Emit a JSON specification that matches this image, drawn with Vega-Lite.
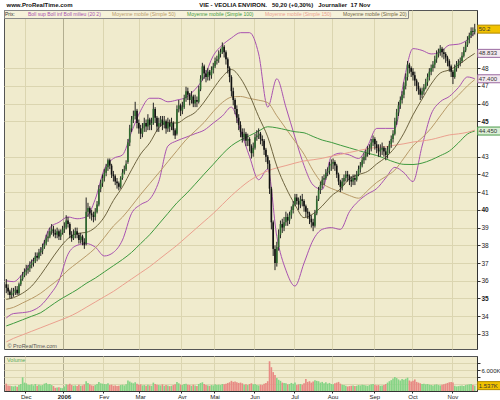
{
"$schema":"https://vega.github.io/schema/vega-lite/v6.json",
"background":"white",
"padding":{"left":3,"top":1,"right":0,"bottom":0},
"config":{"view":{"fill":"#f0ebcd","stroke":"#555","strokeWidth":1},"font":"Liberation Sans","axis":{"labelFont":"Liberation Sans","labelColor":"#222","gridColor":"#dbd5b0","gridWidth":1,"domainColor":"#333","tickColor":"#333","labelOverlap":false},"axisY":{"labelOverlap":false}},
"title":{"text":"www.ProRealTime.com\u00a0\u00a0\u00a0\u00a0\u00a0\u00a0\u00a0\u00a0\u00a0\u00a0\u00a0\u00a0\u00a0\u00a0\u00a0\u00a0\u00a0\u00a0\u00a0\u00a0\u00a0\u00a0\u00a0\u00a0\u00a0\u00a0\u00a0\u00a0\u00a0\u00a0\u00a0\u00a0\u00a0\u00a0\u00a0\u00a0\u00a0\u00a0\u00a0\u00a0\u00a0\u00a0\u00a0\u00a0\u00a0\u00a0\u00a0\u00a0\u00a0\u00a0\u00a0\u00a0\u00a0\u00a0\u00a0\u00a0\u00a0\u00a0\u00a0\u00a0\u00a0\u00a0\u00a0\u00a0\u00a0\u00a0\u00a0\u00a0\u00a0\u00a0\u00a0\u00a0\u00a0\u00a0\u00a0\u00a0VIE - VEOLIA ENVIRON.\u00a0\u00a0\u00a050,20 (+0,30%)\u00a0\u00a0\u00a0Journalier\u00a0\u00a017 Nov","anchor":"start","fontSize":6,"fontWeight":"bold","color":"#111","offset":2,"dx":3},
"datasets":{
"candles":[
{"d":"2005-11-16","o":35.8,"h":36.1,"l":35.3,"c":35.6,"v":2100},
{"d":"2005-11-17","o":35.6,"h":35.8,"l":35.2,"c":35.4,"v":1600},
{"d":"2005-11-18","o":35.4,"h":35.5,"l":35.0,"c":35.2,"v":1500},
{"d":"2005-11-21","o":35.2,"h":35.6,"l":35.0,"c":35.3,"v":1400},
{"d":"2005-11-22","o":35.3,"h":35.6,"l":35.1,"c":35.4,"v":1300},
{"d":"2005-11-23","o":35.4,"h":35.7,"l":35.2,"c":35.5,"v":1500},
{"d":"2005-11-24","o":35.5,"h":35.7,"l":35.2,"c":35.3,"v":1200},
{"d":"2005-11-25","o":35.3,"h":35.9,"l":35.2,"c":35.8,"v":1700},
{"d":"2005-11-28","o":35.8,"h":36.3,"l":35.7,"c":36.1,"v":2000},
{"d":"2005-11-29","o":36.1,"h":36.5,"l":36.0,"c":36.3,"v":3900},
{"d":"2005-11-30","o":36.3,"h":36.7,"l":36.2,"c":36.5,"v":2400},
{"d":"2005-12-01","o":36.5,"h":36.9,"l":36.3,"c":36.6,"v":2200},
{"d":"2005-12-02","o":36.6,"h":36.9,"l":36.4,"c":36.7,"v":1800},
{"d":"2005-12-05","o":36.7,"h":37.1,"l":36.5,"c":36.9,"v":1700},
{"d":"2005-12-06","o":36.9,"h":37.2,"l":36.7,"c":37.0,"v":1900},
{"d":"2005-12-07","o":37.0,"h":37.3,"l":36.8,"c":37.1,"v":1600},
{"d":"2005-12-08","o":37.1,"h":37.6,"l":37.0,"c":37.4,"v":2000},
{"d":"2005-12-09","o":37.4,"h":37.6,"l":37.1,"c":37.3,"v":1500},
{"d":"2005-12-12","o":37.3,"h":37.8,"l":37.2,"c":37.6,"v":1800},
{"d":"2005-12-13","o":37.6,"h":37.9,"l":37.4,"c":37.7,"v":1600},
{"d":"2005-12-14","o":37.7,"h":38.1,"l":37.5,"c":37.9,"v":1700},
{"d":"2005-12-15","o":37.9,"h":38.3,"l":37.8,"c":38.1,"v":2100},
{"d":"2005-12-16","o":38.1,"h":38.6,"l":38.0,"c":38.4,"v":2300},
{"d":"2005-12-19","o":38.4,"h":38.8,"l":38.2,"c":38.5,"v":1900},
{"d":"2005-12-20","o":38.5,"h":39.0,"l":38.4,"c":38.8,"v":2000},
{"d":"2005-12-21","o":38.8,"h":39.2,"l":38.6,"c":38.9,"v":1700},
{"d":"2005-12-22","o":38.9,"h":39.1,"l":38.5,"c":38.7,"v":1400},
{"d":"2005-12-23","o":38.7,"h":38.9,"l":38.4,"c":38.6,"v":900},
{"d":"2005-12-27","o":38.6,"h":39.0,"l":38.4,"c":38.8,"v":1000},
{"d":"2005-12-28","o":38.8,"h":38.9,"l":38.3,"c":38.5,"v":1100},
{"d":"2005-12-29","o":38.5,"h":38.9,"l":38.3,"c":38.7,"v":900},
{"d":"2005-12-30","o":38.7,"h":39.1,"l":38.6,"c":38.9,"v":800},
{"d":"2006-01-02","o":38.9,"h":39.3,"l":38.7,"c":39.0,"v":1300},
{"d":"2006-01-03","o":39.0,"h":39.7,"l":38.9,"c":39.4,"v":1900},
{"d":"2006-01-04","o":39.4,"h":39.6,"l":39.0,"c":39.2,"v":1800},
{"d":"2006-01-05","o":39.2,"h":39.3,"l":38.4,"c":38.6,"v":2100},
{"d":"2006-01-06","o":38.6,"h":38.8,"l":38.2,"c":38.4,"v":1700},
{"d":"2006-01-09","o":38.4,"h":38.9,"l":38.3,"c":38.6,"v":1500},
{"d":"2006-01-10","o":38.6,"h":39.0,"l":38.4,"c":38.8,"v":1600},
{"d":"2006-01-11","o":38.8,"h":39.0,"l":38.4,"c":38.6,"v":1400},
{"d":"2006-01-12","o":38.6,"h":38.7,"l":38.1,"c":38.3,"v":1800},
{"d":"2006-01-13","o":38.3,"h":38.7,"l":38.1,"c":38.5,"v":1500},
{"d":"2006-01-16","o":38.5,"h":38.6,"l":38.0,"c":38.2,"v":1600},
{"d":"2006-01-17","o":38.2,"h":38.4,"l":37.8,"c":38.0,"v":1900},
{"d":"2006-01-18","o":38.1,"h":40.7,"l":38.0,"c":39.9,"v":2800},
{"d":"2006-01-19","o":39.9,"h":40.4,"l":39.6,"c":40.1,"v":2300},
{"d":"2006-01-20","o":40.1,"h":40.2,"l":39.5,"c":39.8,"v":1900},
{"d":"2006-01-23","o":39.8,"h":40.0,"l":39.4,"c":39.7,"v":1600},
{"d":"2006-01-24","o":39.7,"h":39.9,"l":39.3,"c":39.6,"v":1500},
{"d":"2006-01-25","o":39.6,"h":40.1,"l":39.4,"c":39.9,"v":1700},
{"d":"2006-01-26","o":39.9,"h":40.5,"l":39.8,"c":40.3,"v":2000},
{"d":"2006-01-27","o":40.3,"h":41.4,"l":40.2,"c":41.2,"v":2600},
{"d":"2006-01-30","o":41.2,"h":41.7,"l":41.0,"c":41.5,"v":2200},
{"d":"2006-01-31","o":41.5,"h":42.0,"l":41.3,"c":41.8,"v":2100},
{"d":"2006-02-01","o":41.8,"h":42.3,"l":41.6,"c":42.1,"v":2000},
{"d":"2006-02-02","o":42.1,"h":42.6,"l":41.9,"c":42.4,"v":1900},
{"d":"2006-02-03","o":42.4,"h":42.9,"l":42.2,"c":42.8,"v":2200},
{"d":"2006-02-06","o":42.8,"h":42.9,"l":42.3,"c":42.5,"v":1700},
{"d":"2006-02-07","o":42.5,"h":42.6,"l":41.8,"c":42.0,"v":1800},
{"d":"2006-02-08","o":42.0,"h":42.2,"l":41.6,"c":41.9,"v":1500},
{"d":"2006-02-09","o":41.9,"h":42.0,"l":41.4,"c":41.6,"v":1600},
{"d":"2006-02-10","o":41.6,"h":41.8,"l":41.2,"c":41.5,"v":1400},
{"d":"2006-02-13","o":41.5,"h":41.6,"l":41.1,"c":41.3,"v":1500},
{"d":"2006-02-14","o":41.3,"h":41.9,"l":41.2,"c":41.8,"v":1700},
{"d":"2006-02-15","o":41.8,"h":42.3,"l":41.7,"c":42.1,"v":1800},
{"d":"2006-02-16","o":42.1,"h":42.5,"l":42.0,"c":42.3,"v":1600},
{"d":"2006-02-17","o":42.3,"h":42.8,"l":42.2,"c":42.6,"v":1900},
{"d":"2006-02-20","o":42.7,"h":44.0,"l":42.6,"c":43.8,"v":3000},
{"d":"2006-02-21","o":43.8,"h":44.8,"l":43.6,"c":44.6,"v":2700},
{"d":"2006-02-22","o":44.6,"h":45.3,"l":44.4,"c":45.1,"v":2400},
{"d":"2006-02-23","o":45.1,"h":45.6,"l":44.9,"c":45.3,"v":2200},
{"d":"2006-02-24","o":45.3,"h":46.1,"l":45.1,"c":45.6,"v":2500},
{"d":"2006-02-27","o":45.6,"h":45.7,"l":44.6,"c":44.9,"v":2100},
{"d":"2006-02-28","o":44.9,"h":45.1,"l":44.3,"c":44.6,"v":1800},
{"d":"2006-03-01","o":44.6,"h":44.8,"l":44.0,"c":44.3,"v":1900},
{"d":"2006-03-02","o":44.3,"h":44.9,"l":44.1,"c":44.6,"v":1600},
{"d":"2006-03-03","o":44.6,"h":45.2,"l":44.4,"c":44.9,"v":1700},
{"d":"2006-03-06","o":44.9,"h":45.1,"l":44.4,"c":44.7,"v":1500},
{"d":"2006-03-07","o":44.7,"h":45.4,"l":44.5,"c":45.1,"v":1800},
{"d":"2006-03-08","o":45.1,"h":45.2,"l":44.5,"c":44.8,"v":1600},
{"d":"2006-03-09","o":44.8,"h":45.2,"l":44.5,"c":44.9,"v":1500},
{"d":"2006-03-10","o":44.9,"h":46.05,"l":44.8,"c":45.7,"v":2400},
{"d":"2006-03-13","o":45.7,"h":45.8,"l":44.9,"c":45.2,"v":2000},
{"d":"2006-03-14","o":45.2,"h":45.3,"l":44.4,"c":44.7,"v":1800},
{"d":"2006-03-15","o":44.7,"h":45.2,"l":44.4,"c":44.9,"v":1700},
{"d":"2006-03-16","o":44.9,"h":45.3,"l":44.7,"c":45.1,"v":1600},
{"d":"2006-03-17","o":45.1,"h":45.3,"l":44.5,"c":44.8,"v":1900},
{"d":"2006-03-20","o":44.8,"h":45.3,"l":44.6,"c":45.0,"v":1500},
{"d":"2006-03-21","o":45.0,"h":45.1,"l":44.3,"c":44.6,"v":1700},
{"d":"2006-03-22","o":44.6,"h":45.2,"l":44.4,"c":44.9,"v":1600},
{"d":"2006-03-23","o":44.9,"h":45.1,"l":44.4,"c":44.7,"v":1400},
{"d":"2006-03-24","o":44.7,"h":45.2,"l":44.5,"c":44.9,"v":1500},
{"d":"2006-03-27","o":44.9,"h":45.0,"l":44.2,"c":44.5,"v":1700},
{"d":"2006-03-28","o":44.5,"h":44.6,"l":44.0,"c":44.2,"v":1900},
{"d":"2006-03-29","o":44.3,"h":45.9,"l":44.2,"c":45.7,"v":2600},
{"d":"2006-03-30","o":45.7,"h":46.2,"l":45.5,"c":45.9,"v":2200},
{"d":"2006-03-31","o":45.9,"h":46.0,"l":45.3,"c":45.6,"v":1800},
{"d":"2006-04-03","o":45.6,"h":46.1,"l":45.4,"c":45.8,"v":1700},
{"d":"2006-04-04","o":45.8,"h":46.5,"l":45.7,"c":46.3,"v":2000},
{"d":"2006-04-05","o":46.3,"h":46.95,"l":46.1,"c":46.7,"v":2100},
{"d":"2006-04-06","o":46.7,"h":46.9,"l":46.2,"c":46.5,"v":1800},
{"d":"2006-04-07","o":46.5,"h":46.6,"l":45.9,"c":46.2,"v":1700},
{"d":"2006-04-10","o":46.2,"h":46.7,"l":46.0,"c":46.4,"v":1500},
{"d":"2006-04-11","o":46.4,"h":46.5,"l":45.8,"c":46.0,"v":1800},
{"d":"2006-04-12","o":46.0,"h":46.5,"l":45.8,"c":46.2,"v":1600},
{"d":"2006-04-13","o":46.2,"h":46.4,"l":45.8,"c":46.1,"v":1400},
{"d":"2006-04-18","o":46.1,"h":47.0,"l":46.0,"c":46.8,"v":2000},
{"d":"2006-04-19","o":46.8,"h":47.6,"l":46.7,"c":47.4,"v":2300},
{"d":"2006-04-20","o":47.4,"h":48.3,"l":47.3,"c":48.1,"v":2500},
{"d":"2006-04-21","o":48.1,"h":48.2,"l":47.4,"c":47.7,"v":2000},
{"d":"2006-04-24","o":47.7,"h":47.9,"l":47.2,"c":47.5,"v":1700},
{"d":"2006-04-25","o":47.5,"h":48.0,"l":47.3,"c":47.8,"v":1600},
{"d":"2006-04-26","o":47.8,"h":47.9,"l":47.3,"c":47.6,"v":1500},
{"d":"2006-04-27","o":47.6,"h":48.1,"l":47.4,"c":47.9,"v":1700},
{"d":"2006-04-28","o":47.9,"h":48.3,"l":47.7,"c":48.1,"v":1600},
{"d":"2006-05-02","o":48.1,"h":48.6,"l":48.0,"c":48.4,"v":1900},
{"d":"2006-05-03","o":48.4,"h":48.7,"l":48.2,"c":48.5,"v":1700},
{"d":"2006-05-04","o":48.5,"h":49.0,"l":48.3,"c":48.8,"v":1800},
{"d":"2006-05-05","o":48.8,"h":49.1,"l":48.6,"c":48.9,"v":1700},
{"d":"2006-05-08","o":48.9,"h":49.45,"l":48.8,"c":49.2,"v":2000},
{"d":"2006-05-09","o":49.2,"h":49.3,"l":48.6,"c":48.9,"v":1900},
{"d":"2006-05-10","o":48.9,"h":49.0,"l":48.2,"c":48.5,"v":2100},
{"d":"2006-05-11","o":48.5,"h":48.6,"l":47.7,"c":48.0,"v":2300},
{"d":"2006-05-12","o":48.0,"h":48.1,"l":47.2,"c":47.5,"v":2500},
{"d":"2006-05-15","o":47.5,"h":47.6,"l":46.4,"c":46.7,"v":2900},
{"d":"2006-05-16","o":46.7,"h":46.9,"l":45.9,"c":46.2,"v":2600},
{"d":"2006-05-17","o":46.2,"h":46.3,"l":45.4,"c":45.7,"v":2700},
{"d":"2006-05-18","o":45.7,"h":45.9,"l":44.9,"c":45.2,"v":2500},
{"d":"2006-05-19","o":45.2,"h":45.4,"l":44.5,"c":44.8,"v":2300},
{"d":"2006-05-22","o":44.8,"h":45.0,"l":44.1,"c":44.4,"v":2400},
{"d":"2006-05-23","o":44.4,"h":44.6,"l":43.8,"c":44.1,"v":2200},
{"d":"2006-05-24","o":44.1,"h":44.6,"l":43.9,"c":44.3,"v":1800},
{"d":"2006-05-25","o":44.3,"h":44.4,"l":43.6,"c":43.9,"v":1900},
{"d":"2006-05-26","o":43.9,"h":44.3,"l":43.6,"c":44.0,"v":1700},
{"d":"2006-05-29","o":44.0,"h":44.1,"l":43.3,"c":43.6,"v":2000},
{"d":"2006-05-30","o":43.6,"h":43.7,"l":42.9,"c":43.2,"v":2200},
{"d":"2006-05-31","o":43.2,"h":43.8,"l":43.0,"c":43.5,"v":1900},
{"d":"2006-06-01","o":43.5,"h":44.3,"l":43.4,"c":44.1,"v":2000},
{"d":"2006-06-02","o":44.1,"h":44.5,"l":43.9,"c":44.2,"v":1700},
{"d":"2006-06-05","o":44.2,"h":44.6,"l":44.0,"c":44.3,"v":1600},
{"d":"2006-06-06","o":44.3,"h":44.4,"l":43.7,"c":44.0,"v":1800},
{"d":"2006-06-07","o":44.0,"h":44.2,"l":43.6,"c":43.9,"v":1700},
{"d":"2006-06-08","o":43.9,"h":44.0,"l":43.1,"c":43.4,"v":2100},
{"d":"2006-06-09","o":43.4,"h":43.5,"l":42.7,"c":43.0,"v":2300},
{"d":"2006-06-12","o":43.0,"h":43.1,"l":42.3,"c":42.6,"v":2800},
{"d":"2006-06-13","o":42.6,"h":42.8,"l":40.9,"c":41.2,"v":8500},
{"d":"2006-06-14","o":41.2,"h":41.3,"l":38.9,"c":39.3,"v":6800},
{"d":"2006-06-15","o":39.3,"h":39.4,"l":37.4,"c":37.8,"v":5400},
{"d":"2006-06-16","o":37.8,"h":38.0,"l":36.6,"c":37.0,"v":4600},
{"d":"2006-06-19","o":37.0,"h":38.2,"l":36.8,"c":37.9,"v":3700},
{"d":"2006-06-20","o":37.9,"h":38.9,"l":37.7,"c":38.6,"v":3200},
{"d":"2006-06-21","o":38.6,"h":39.4,"l":38.4,"c":39.2,"v":2900},
{"d":"2006-06-22","o":39.2,"h":39.5,"l":38.7,"c":39.0,"v":2400},
{"d":"2006-06-23","o":39.0,"h":39.6,"l":38.8,"c":39.3,"v":2300},
{"d":"2006-06-26","o":39.3,"h":39.9,"l":39.1,"c":39.6,"v":2200},
{"d":"2006-06-27","o":39.6,"h":39.8,"l":39.1,"c":39.4,"v":1900},
{"d":"2006-06-28","o":39.4,"h":39.9,"l":39.2,"c":39.7,"v":2000},
{"d":"2006-06-29","o":39.7,"h":40.2,"l":39.5,"c":40.0,"v":2300},
{"d":"2006-06-30","o":40.0,"h":40.5,"l":39.8,"c":40.3,"v":2100},
{"d":"2006-07-03","o":40.3,"h":40.9,"l":40.2,"c":40.7,"v":2400},
{"d":"2006-07-04","o":40.7,"h":40.9,"l":40.3,"c":40.5,"v":1700},
{"d":"2006-07-05","o":40.5,"h":40.7,"l":40.0,"c":40.3,"v":1900},
{"d":"2006-07-06","o":40.3,"h":40.8,"l":40.1,"c":40.6,"v":2000},
{"d":"2006-07-07","o":40.6,"h":40.9,"l":40.2,"c":40.5,"v":1800},
{"d":"2006-07-10","o":40.5,"h":40.6,"l":39.9,"c":40.2,"v":2200},
{"d":"2006-07-11","o":40.2,"h":40.3,"l":39.6,"c":39.9,"v":3400},
{"d":"2006-07-12","o":39.9,"h":40.1,"l":39.5,"c":39.8,"v":2600},
{"d":"2006-07-13","o":39.8,"h":39.9,"l":39.2,"c":39.5,"v":2800},
{"d":"2006-07-14","o":39.5,"h":39.7,"l":39.0,"c":39.3,"v":2400},
{"d":"2006-07-17","o":39.3,"h":39.5,"l":38.8,"c":39.1,"v":2700},
{"d":"2006-07-18","o":39.1,"h":40.0,"l":39.0,"c":39.8,"v":3100},
{"d":"2006-07-19","o":39.8,"h":40.8,"l":39.7,"c":40.6,"v":2900},
{"d":"2006-07-20","o":40.6,"h":41.3,"l":40.5,"c":41.1,"v":2800},
{"d":"2006-07-21","o":41.1,"h":41.6,"l":40.9,"c":41.4,"v":2400},
{"d":"2006-07-24","o":41.4,"h":41.9,"l":41.2,"c":41.7,"v":2600},
{"d":"2006-07-25","o":41.7,"h":42.0,"l":41.4,"c":41.8,"v":2200},
{"d":"2006-07-26","o":41.8,"h":42.3,"l":41.7,"c":42.1,"v":2500},
{"d":"2006-07-27","o":42.1,"h":42.4,"l":41.9,"c":42.2,"v":2100},
{"d":"2006-07-28","o":42.2,"h":42.7,"l":42.0,"c":42.5,"v":2300},
{"d":"2006-07-31","o":42.5,"h":42.85,"l":42.2,"c":42.6,"v":2000},
{"d":"2006-08-01","o":42.6,"h":42.9,"l":42.3,"c":42.7,"v":1900},
{"d":"2006-08-02","o":42.7,"h":42.8,"l":42.2,"c":42.5,"v":2200},
{"d":"2006-08-03","o":42.5,"h":42.6,"l":41.8,"c":42.0,"v":2400},
{"d":"2006-08-04","o":42.0,"h":42.1,"l":41.4,"c":41.6,"v":2600},
{"d":"2006-08-07","o":41.6,"h":41.7,"l":41.0,"c":41.3,"v":2100},
{"d":"2006-08-08","o":41.3,"h":41.8,"l":41.1,"c":41.6,"v":1800},
{"d":"2006-08-09","o":41.6,"h":42.0,"l":41.4,"c":41.8,"v":1700},
{"d":"2006-08-10","o":41.8,"h":42.2,"l":41.6,"c":42.0,"v":1500},
{"d":"2006-08-11","o":42.0,"h":42.2,"l":41.6,"c":41.9,"v":1300},
{"d":"2006-08-14","o":41.9,"h":42.0,"l":41.4,"c":41.7,"v":1400},
{"d":"2006-08-15","o":41.7,"h":41.9,"l":41.3,"c":41.6,"v":1500},
{"d":"2006-08-16","o":41.6,"h":42.0,"l":41.4,"c":41.8,"v":1600},
{"d":"2006-08-17","o":41.8,"h":42.0,"l":41.4,"c":41.7,"v":1400},
{"d":"2006-08-18","o":41.7,"h":42.2,"l":41.6,"c":42.0,"v":1500},
{"d":"2006-08-21","o":42.0,"h":42.5,"l":41.9,"c":42.3,"v":1700},
{"d":"2006-08-22","o":42.3,"h":42.7,"l":42.1,"c":42.5,"v":1600},
{"d":"2006-08-23","o":42.5,"h":43.0,"l":42.4,"c":42.8,"v":1800},
{"d":"2006-08-24","o":42.8,"h":43.2,"l":42.6,"c":43.0,"v":1700},
{"d":"2006-08-25","o":43.0,"h":43.4,"l":42.8,"c":43.2,"v":1600},
{"d":"2006-08-28","o":43.2,"h":43.6,"l":43.0,"c":43.4,"v":1500},
{"d":"2006-08-29","o":43.4,"h":43.7,"l":43.1,"c":43.5,"v":1700},
{"d":"2006-08-30","o":43.5,"h":44.0,"l":43.3,"c":43.8,"v":1900},
{"d":"2006-08-31","o":43.8,"h":44.2,"l":43.6,"c":44.0,"v":2000},
{"d":"2006-09-01","o":44.0,"h":44.1,"l":43.4,"c":43.7,"v":1800},
{"d":"2006-09-04","o":43.7,"h":43.9,"l":43.2,"c":43.5,"v":1600},
{"d":"2006-09-05","o":43.5,"h":43.7,"l":43.0,"c":43.3,"v":1700},
{"d":"2006-09-06","o":43.3,"h":43.7,"l":43.0,"c":43.4,"v":1500},
{"d":"2006-09-07","o":43.4,"h":43.8,"l":43.1,"c":43.5,"v":1600},
{"d":"2006-09-08","o":43.5,"h":43.6,"l":43.0,"c":43.3,"v":1700},
{"d":"2006-09-11","o":43.3,"h":43.5,"l":42.8,"c":43.1,"v":2000},
{"d":"2006-09-12","o":43.1,"h":43.6,"l":42.9,"c":43.4,"v":2400},
{"d":"2006-09-13","o":43.4,"h":43.9,"l":43.2,"c":43.7,"v":2800},
{"d":"2006-09-14","o":43.7,"h":44.2,"l":43.5,"c":44.0,"v":3100},
{"d":"2006-09-15","o":44.0,"h":44.5,"l":43.8,"c":44.3,"v":3600},
{"d":"2006-09-18","o":44.3,"h":45.2,"l":44.2,"c":45.0,"v":4000},
{"d":"2006-09-19","o":45.0,"h":45.7,"l":44.8,"c":45.5,"v":3700},
{"d":"2006-09-20","o":45.5,"h":46.1,"l":45.3,"c":45.9,"v":3300},
{"d":"2006-09-21","o":45.9,"h":46.4,"l":45.7,"c":46.2,"v":3000},
{"d":"2006-09-22","o":46.2,"h":46.7,"l":46.0,"c":46.5,"v":3400},
{"d":"2006-09-25","o":46.5,"h":47.2,"l":46.3,"c":47.0,"v":3200},
{"d":"2006-09-26","o":47.0,"h":47.7,"l":46.8,"c":47.5,"v":3500},
{"d":"2006-09-27","o":47.5,"h":48.4,"l":47.3,"c":48.2,"v":3800},
{"d":"2006-09-28","o":48.2,"h":48.3,"l":47.7,"c":48.0,"v":3000},
{"d":"2006-09-29","o":48.0,"h":48.1,"l":47.5,"c":47.8,"v":2700},
{"d":"2006-10-02","o":47.8,"h":48.0,"l":47.3,"c":47.6,"v":2900},
{"d":"2006-10-03","o":47.6,"h":47.8,"l":47.0,"c":47.3,"v":3300},
{"d":"2006-10-04","o":47.3,"h":47.4,"l":46.7,"c":47.0,"v":2600},
{"d":"2006-10-05","o":47.0,"h":47.2,"l":46.5,"c":46.8,"v":2400},
{"d":"2006-10-06","o":46.8,"h":46.9,"l":46.2,"c":46.5,"v":2200},
{"d":"2006-10-09","o":46.5,"h":46.9,"l":46.3,"c":46.7,"v":2000},
{"d":"2006-10-10","o":46.7,"h":47.1,"l":46.5,"c":46.9,"v":2100},
{"d":"2006-10-11","o":46.9,"h":47.4,"l":46.8,"c":47.2,"v":1900},
{"d":"2006-10-12","o":47.2,"h":47.7,"l":47.0,"c":47.5,"v":2000},
{"d":"2006-10-13","o":47.5,"h":48.0,"l":47.3,"c":47.8,"v":1800},
{"d":"2006-10-16","o":47.8,"h":48.2,"l":47.6,"c":48.0,"v":1700},
{"d":"2006-10-17","o":48.0,"h":48.4,"l":47.8,"c":48.2,"v":1600},
{"d":"2006-10-18","o":48.2,"h":48.7,"l":48.0,"c":48.5,"v":1800},
{"d":"2006-10-19","o":48.5,"h":49.0,"l":48.3,"c":48.8,"v":1900},
{"d":"2006-10-20","o":48.8,"h":49.1,"l":48.6,"c":48.9,"v":1700},
{"d":"2006-10-23","o":48.9,"h":49.3,"l":48.7,"c":49.1,"v":1600},
{"d":"2006-10-24","o":49.1,"h":49.2,"l":48.6,"c":48.9,"v":1800},
{"d":"2006-10-25","o":48.9,"h":49.1,"l":48.5,"c":48.8,"v":1900},
{"d":"2006-10-26","o":48.8,"h":48.9,"l":48.3,"c":48.6,"v":2100},
{"d":"2006-10-27","o":48.6,"h":48.7,"l":48.1,"c":48.4,"v":2300},
{"d":"2006-10-30","o":48.4,"h":48.5,"l":47.8,"c":48.1,"v":2500},
{"d":"2006-10-31","o":48.1,"h":48.2,"l":47.5,"c":47.8,"v":2600},
{"d":"2006-11-01","o":47.8,"h":47.9,"l":47.1,"c":47.5,"v":2400},
{"d":"2006-11-02","o":47.5,"h":48.2,"l":47.4,"c":48.0,"v":1500},
{"d":"2006-11-03","o":48.0,"h":48.4,"l":47.8,"c":48.2,"v":1300},
{"d":"2006-11-06","o":48.2,"h":48.5,"l":48.0,"c":48.3,"v":1400},
{"d":"2006-11-07","o":48.3,"h":48.6,"l":48.1,"c":48.4,"v":1500},
{"d":"2006-11-08","o":48.4,"h":48.9,"l":48.3,"c":48.7,"v":1600},
{"d":"2006-11-09","o":48.7,"h":49.2,"l":48.6,"c":49.0,"v":1400},
{"d":"2006-11-10","o":49.0,"h":49.5,"l":48.9,"c":49.3,"v":1700},
{"d":"2006-11-13","o":49.3,"h":49.8,"l":49.2,"c":49.6,"v":1800},
{"d":"2006-11-14","o":49.6,"h":50.0,"l":49.4,"c":49.85,"v":1900},
{"d":"2006-11-15","o":49.85,"h":50.3,"l":49.7,"c":50.1,"v":2000},
{"d":"2006-11-16","o":50.1,"h":50.3,"l":49.8,"c":50.05,"v":1700},
{"d":"2006-11-17","o":50.05,"h":50.5,"l":49.9,"c":50.2,"v":1537}
],
"ind":[
{"d":"2005-11-16","bu":36.0,"bl":33.9,"m20":34.95,"m50":34.4,"m100":33.45,"m150":32.55},
{"d":"2005-11-22","bu":35.95,"bl":34.15,"m20":35.05,"m50":34.5,"m100":33.6,"m150":32.75},
{"d":"2005-11-29","bu":36.4,"bl":34.2,"m20":35.3,"m50":34.75,"m100":33.8,"m150":32.95},
{"d":"2005-12-06","bu":37.1,"bl":34.3,"m20":35.7,"m50":35.0,"m100":34.0,"m150":33.15},
{"d":"2005-12-13","bu":37.7,"bl":34.6,"m20":36.34,"m50":35.3,"m100":34.2,"m150":33.35},
{"d":"2005-12-20","bu":39.0,"bl":35.2,"m20":37.08,"m50":35.7,"m100":34.55,"m150":33.55},
{"d":"2005-12-28","bu":39.3,"bl":36.0,"m20":37.8,"m50":36.1,"m100":34.9,"m150":33.75},
{"d":"2006-01-04","bu":39.6,"bl":37.5,"m20":38.38,"m50":36.6,"m100":35.2,"m150":33.95},
{"d":"2006-01-11","bu":39.5,"bl":38.0,"m20":38.67,"m50":37.0,"m100":35.5,"m150":34.2},
{"d":"2006-01-18","bu":39.6,"bl":38.1,"m20":38.73,"m50":37.4,"m100":35.85,"m150":34.5},
{"d":"2006-01-25","bu":40.6,"bl":37.9,"m20":39.01,"m50":37.84,"m100":36.15,"m150":34.8},
{"d":"2006-02-01","bu":42.3,"bl":37.4,"m20":39.6,"m50":38.44,"m100":36.5,"m150":35.1},
{"d":"2006-02-08","bu":42.9,"bl":37.6,"m20":40.53,"m50":39.09,"m100":36.85,"m150":35.4},
{"d":"2006-02-15","bu":43.1,"bl":38.3,"m20":41.3,"m50":39.59,"m100":37.2,"m150":35.75},
{"d":"2006-02-22","bu":44.4,"bl":39.8,"m20":42.26,"m50":40.21,"m100":37.6,"m150":36.1},
{"d":"2006-03-01","bu":45.6,"bl":40.3,"m20":43.15,"m50":40.87,"m100":38.1,"m150":36.45},
{"d":"2006-03-08","bu":46.3,"bl":40.6,"m20":43.78,"m50":41.48,"m100":38.6,"m150":36.8},
{"d":"2006-03-15","bu":46.3,"bl":41.6,"m20":44.63,"m50":42.09,"m100":39.2,"m150":37.2},
{"d":"2006-03-22","bu":46.1,"bl":43.6,"m20":44.93,"m50":42.72,"m100":39.8,"m150":37.6},
{"d":"2006-03-29","bu":46.2,"bl":43.9,"m20":44.9,"m50":43.34,"m100":40.4,"m150":38.0},
{"d":"2006-04-05","bu":46.35,"bl":44.1,"m20":45.21,"m50":43.96,"m100":40.9,"m150":38.45},
{"d":"2006-04-12","bu":46.8,"bl":44.3,"m20":45.5,"m50":44.45,"m100":41.45,"m150":38.9},
{"d":"2006-04-21","bu":47.5,"bl":44.5,"m20":46.09,"m50":44.94,"m100":42.02,"m150":39.35},
{"d":"2006-04-28","bu":48.7,"bl":44.9,"m20":46.83,"m50":45.55,"m100":42.57,"m150":39.8},
{"d":"2006-05-08","bu":49.3,"bl":45.3,"m20":47.51,"m50":46.06,"m100":43.14,"m150":40.3},
{"d":"2006-05-15","bu":49.7,"bl":45.8,"m20":47.92,"m50":46.36,"m100":43.62,"m150":40.8},
{"d":"2006-05-22","bu":50.0,"bl":44.5,"m20":47.43,"m50":46.4,"m100":43.94,"m150":41.25},
{"d":"2006-05-29","bu":50.0,"bl":43.0,"m20":46.48,"m50":46.29,"m100":44.19,"m150":41.65},
{"d":"2006-06-05","bu":48.8,"bl":41.7,"m20":45.26,"m50":46.19,"m100":44.45,"m150":41.95},
{"d":"2006-06-12","bu":45.8,"bl":42.3,"m20":44.12,"m50":46.05,"m100":44.69,"m150":42.2},
{"d":"2006-06-19","bu":47.4,"bl":38.5,"m20":42.47,"m50":45.31,"m100":44.63,"m150":42.37},
{"d":"2006-06-26","bu":45.8,"bl":36.6,"m20":41.26,"m50":44.59,"m100":44.52,"m150":42.5},
{"d":"2006-07-03","bu":44.1,"bl":35.7,"m20":40.3,"m50":43.87,"m100":44.41,"m150":42.64},
{"d":"2006-07-10","bu":42.5,"bl":37.0,"m20":39.56,"m50":43.14,"m100":44.35,"m150":42.76},
{"d":"2006-07-17","bu":41.4,"bl":38.3,"m20":39.78,"m50":42.21,"m100":44.14,"m150":42.83},
{"d":"2006-07-24","bu":41.15,"bl":38.9,"m20":40.22,"m50":41.51,"m100":43.94,"m150":42.91},
{"d":"2006-07-31","bu":43.0,"bl":39.0,"m20":40.78,"m50":41.21,"m100":43.81,"m150":43.03},
{"d":"2006-08-07","bu":43.2,"bl":38.9,"m20":41.18,"m50":41.02,"m100":43.65,"m150":43.13},
{"d":"2006-08-14","bu":43.1,"bl":39.9,"m20":41.75,"m50":40.81,"m100":43.5,"m150":43.24},
{"d":"2006-08-21","bu":42.9,"bl":40.5,"m20":41.99,"m50":40.66,"m100":43.35,"m150":43.35},
{"d":"2006-08-28","bu":43.6,"bl":40.9,"m20":42.17,"m50":41.09,"m100":43.2,"m150":43.45},
{"d":"2006-09-04","bu":44.6,"bl":41.2,"m20":42.59,"m50":41.55,"m100":43.07,"m150":43.53},
{"d":"2006-09-11","bu":44.6,"bl":41.8,"m20":42.97,"m50":41.88,"m100":42.88,"m150":43.56},
{"d":"2006-09-18","bu":44.6,"bl":42.4,"m20":43.52,"m50":42.25,"m100":42.69,"m150":43.65},
{"d":"2006-09-25","bu":47.3,"bl":42.1,"m20":44.33,"m50":42.92,"m100":42.57,"m150":43.73},
{"d":"2006-10-02","bu":49.1,"bl":41.6,"m20":45.36,"m50":43.61,"m100":42.56,"m150":43.83},
{"d":"2006-10-09","bu":49.0,"bl":43.6,"m20":46.25,"m50":44.07,"m100":42.64,"m150":43.89},
{"d":"2006-10-16","bu":48.8,"bl":45.4,"m20":47.1,"m50":44.61,"m100":42.82,"m150":43.97},
{"d":"2006-10-23","bu":48.9,"bl":46.1,"m20":47.72,"m50":45.3,"m100":43.06,"m150":44.1},
{"d":"2006-10-30","bu":49.3,"bl":46.4,"m20":47.9,"m50":45.97,"m100":43.32,"m150":44.23},
{"d":"2006-11-06","bu":49.35,"bl":46.9,"m20":48.18,"m50":46.47,"m100":43.78,"m150":44.29},
{"d":"2006-11-13","bu":49.6,"bl":47.5,"m20":48.56,"m50":47.0,"m100":44.28,"m150":44.38},
{"d":"2006-11-17","bu":50.0,"bl":47.4,"m20":48.83,"m50":47.35,"m100":44.45,"m150":44.5}
],
"tags":[
{"d":"2006-11-17","v":50.2,"t":"50.2","k":"p"},
{"d":"2006-11-17","v":48.833,"t":"48.833","k":"m"},
{"d":"2006-11-17","v":47.4,"t":"47.400","k":"b"},
{"d":"2006-11-17","v":44.45,"t":"44.450","k":"g"}
],
"vtag":[
{"d":"2006-11-17","v":1537,"t":"1.537K"}
]
},
"spacing":5,
"vconcat":[
{
"width":473,"height":339,
"layer":[
{"data":{"name":"ind"},
"transform":[{"fold":["bu","bl","m50","m100","m150","m20"],"as":["k","val"]}],
"mark":{"type":"line","strokeWidth":1,"interpolate":"monotone"},
"encoding":{
"x":{"field":"d","type":"ordinal","scale":{"paddingInner":0.1,"paddingOuter":0.8},
"axis":{"values":["2005-12-01","2006-01-02","2006-02-01","2006-03-01","2006-04-03","2006-05-02","2006-06-01","2006-07-03","2006-08-01","2006-09-01","2006-10-02","2006-11-01"],"labels":false,"ticks":false,"domain":false,"grid":true,"bandPosition":0,"gridColor":{"condition":{"test":"datum.value==='2006-01-02'","value":"#b3ae90"},"value":"#dbd5b0"},"title":"© ProRealTime.com","titleAnchor":"start","titleFontSize":5.5,"titleFontWeight":"normal","titleColor":"#555","titleBaseline":"bottom","titleY":-1,"titleX":3}},
"y":{"field":"val","type":"quantitative","scale":{"domain":[32.15,51.28],"nice":false,"zero":false},
"axis":{"orient":"right","values":[33,34,35,36,37,38,39,40,41,42,43,45,46,47,48],"title":null,"labelFontSize":6.5,"labelOverlap":false,"labelBound":false,"labelFontWeight":{"condition":{"test":"datum.value % 5 === 0","value":"bold"},"value":"normal"},"tickSize":3,"labelPadding":1,"grid":true,"domain":true}},
"color":{"field":"k","type":"nominal","scale":{"domain":["bu","bl","m50","m100","m150","m20"],"range":["#a852b0","#a852b0","#b89a68","#3f9a3f","#eba08e","#6e6440"]},
"legend":{"values":["bu","m50","m100","m150","m20"],"title":"Prix:","orient":"top-left","direction":"horizontal","offset":0,"padding":1,"fillColor":"#f6f2da","strokeColor":"#888","titleOrient":"left","titleFontSize":5,"titleFontWeight":"normal","titleColor":"#333","titlePadding":8,"labelFontSize":5,"symbolSize":0,"symbolStrokeWidth":0,"symbolOpacity":0,"labelOffset":0,"columnPadding":6,
"labelExpr":"{'bu':'Boll sup Boll inf Boll milieu (20 2)','m50':'Moyenne mobile (Simple 50)','m100':'Moyenne mobile (Simple 100)','m150':'Moyenne mobile (Simple 150)','m20':'Moyenne mobile (Simple 20)'}[datum.value]",
"encode":{"labels":{"update":{"fill":{"scale":"color","field":"value"}}}}}}
}},
{"data":{"name":"candles"},
"mark":{"type":"rule","color":"#222","strokeWidth":1},
"encoding":{"x":{"field":"d","type":"ordinal"},"y":{"field":"l","type":"quantitative",
"axis":{"orient":"right","values":[33,34,35,36,37,38,39,40,41,42,43,45,46,47,48],"title":null,"labelFontSize":6.5,"labelOverlap":false,"labelBound":false,"labelFontWeight":{"condition":{"test":"datum.value % 5 === 0","value":"bold"},"value":"normal"},"tickSize":3,"labelPadding":1,"grid":true,"domain":true}},"y2":{"field":"h"}}},
{"data":{"name":"candles"},
"mark":{"type":"bar"},
"encoding":{"x":{"field":"d","type":"ordinal"},"y":{"field":"o","type":"quantitative",
"axis":{"orient":"right","values":[33,34,35,36,37,38,39,40,41,42,43,45,46,47,48],"title":null,"labelFontSize":6.5,"labelOverlap":false,"labelBound":false,"labelFontWeight":{"condition":{"test":"datum.value % 5 === 0","value":"bold"},"value":"normal"},"tickSize":3,"labelPadding":1,"grid":true,"domain":true}},"y2":{"field":"c"},
"color":{"condition":{"test":"datum.c >= datum.o","value":"#2f6a2f"},"value":"#111111"}}},
{"data":{"name":"tags"},
"mark":{"type":"point","shape":"M0.75,-1H6.5V1H0.75Z","size":64,"filled":true,"strokeWidth":1,"opacity":1},
"encoding":{"x":{"field":"d","type":"ordinal"},"y":{"field":"v","type":"quantitative",
"axis":{"orient":"right","values":[33,34,35,36,37,38,39,40,41,42,43,45,46,47,48],"title":null,"labelFontSize":6.5,"labelOverlap":false,"labelBound":false,"labelFontWeight":{"condition":{"test":"datum.value % 5 === 0","value":"bold"},"value":"normal"},"tickSize":3,"labelPadding":1,"grid":true,"domain":true}},
"fill":{"condition":[{"test":"datum.k==='p'","value":"#f2c200"},{"test":"datum.k==='g'","value":"#dcefd6"}],"value":"#f3e9ef"},
"stroke":{"condition":[{"test":"datum.k==='p'","value":"#b08a00"},{"test":"datum.k==='g'","value":"#4a9a4a"}],"value":"#9a6aa0"}}},
{"data":{"name":"tags"},
"mark":{"type":"text","align":"left","baseline":"middle","dx":4,"fontSize":6,"color":"#333"},
"encoding":{"x":{"field":"d","type":"ordinal"},"y":{"field":"v","type":"quantitative",
"axis":{"orient":"right","values":[33,34,35,36,37,38,39,40,41,42,43,45,46,47,48],"title":null,"labelFontSize":6.5,"labelOverlap":false,"labelBound":false,"labelFontWeight":{"condition":{"test":"datum.value % 5 === 0","value":"bold"},"value":"normal"},"tickSize":3,"labelPadding":1,"grid":true,"domain":true}},"text":{"field":"t"}}}
]
},
{
"width":473,"height":35,
"title":{"text":"Volume","anchor":"start","fontSize":5.5,"fontWeight":"normal","color":"#5aaa5a","offset":-7,"dx":3},
"layer":[
{"data":{"name":"candles"},
"mark":{"type":"bar"},
"encoding":{
"x":{"field":"d","type":"ordinal","scale":{"paddingInner":0.1,"paddingOuter":0.8},
"axis":{"values":["2005-12-01","2006-01-02","2006-02-01","2006-03-01","2006-04-03","2006-05-02","2006-06-01","2006-07-03","2006-08-01","2006-09-01","2006-10-02","2006-11-01"],"title":null,"labelAngle":0,"labelFontSize":6,"labelPadding":0,"tickSize":2,"grid":true,"bandPosition":0,"labelOverlap":false,"gridColor":{"condition":{"test":"datum.value==='2006-01-02'","value":"#b3ae90"},"value":"#dbd5b0"},"labelFontWeight":{"condition":{"test":"datum.value==='2006-01-02'","value":"bold"},"value":"normal"},
"labelExpr":"{'2005-12-01':'Dec','2006-01-02':'2006','2006-02-01':'Fev','2006-03-01':'Mar','2006-04-03':'Avr','2006-05-02':'Mai','2006-06-01':'Jun','2006-07-03':'Jul','2006-08-01':'Aou','2006-09-01':'Sep','2006-10-02':'Oct','2006-11-01':'Nov'}[datum.value]"}},
"y":{"field":"v","type":"quantitative","scale":{"domain":[0,10000],"nice":false},
"axis":{"orient":"right","values":[2000,4000,6000,8000],"title":null,"labelFontSize":6,"tickSize":3,"labelPadding":1,"grid":true,"labelOverlap":false,
"labelExpr":"datum.value == 6000 ? replace(format(datum.value, ','), ',', '.') + 'K' : ''"}},
"color":{"condition":{"test":"datum.c >= datum.o","value":"#86d486"},"value":"#e88a84"}}},
{"data":{"name":"vtag"},
"mark":{"type":"point","shape":"M0.75,-1H6.5V1H0.75Z","size":64,"filled":true,"fill":"#f2c200","stroke":"#b08a00","strokeWidth":1,"opacity":1},
"encoding":{"x":{"field":"d","type":"ordinal"},"y":{"field":"v","type":"quantitative",
"axis":{"orient":"right","values":[2000,4000,6000,8000],"title":null,"labelFontSize":6,"tickSize":3,"labelPadding":1,"grid":true,"labelOverlap":false,
"labelExpr":"datum.value == 6000 ? replace(format(datum.value, ','), ',', '.') + 'K' : ''"}}}},
{"data":{"name":"vtag"},
"mark":{"type":"text","align":"left","baseline":"middle","dx":4,"fontSize":6,"color":"#333"},
"encoding":{"x":{"field":"d","type":"ordinal"},"y":{"field":"v","type":"quantitative",
"axis":{"orient":"right","values":[2000,4000,6000,8000],"title":null,"labelFontSize":6,"tickSize":3,"labelPadding":1,"grid":true,"labelOverlap":false,
"labelExpr":"datum.value == 6000 ? replace(format(datum.value, ','), ',', '.') + 'K' : ''"}},"text":{"field":"t"}}}
]
}
]
}
